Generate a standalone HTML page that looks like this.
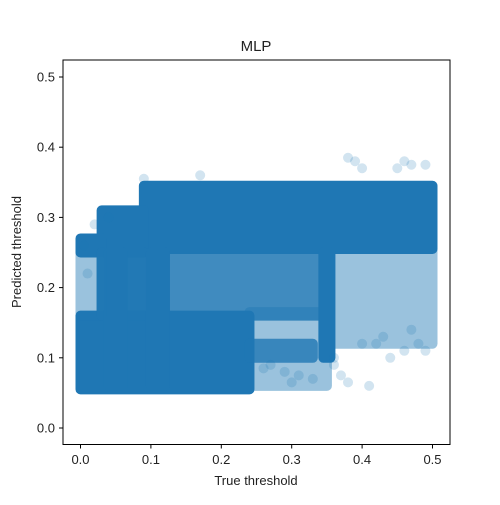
<!DOCTYPE html>
<html><head><meta charset="utf-8"><style>
body{margin:0;background:#fff}
svg text{font-family:"Liberation Sans","DejaVu Sans",sans-serif;font-size:13px;fill:#222}
</style></head><body>
<svg id="chart" width="500" height="500" viewBox="0 0 500 500">
<rect x="0" y="0" width="500" height="500" fill="#fff"/>
<g id="marks"></g>
<g id="axes"></g>
<text x="256" y="51" text-anchor="middle" style="font-size:15px">MLP</text>
<text x="256" y="485" text-anchor="middle">True threshold</text>
<text transform="translate(21,252) rotate(-90)" text-anchor="middle">Predicted threshold</text>
</svg>
<script>
// dense bands (data coords): x0,x1,y0,y1,opacity
const bandX0=[0.24,0.35,0.03,0.09,0.03,0.0,0.0,0.24,0.03,0.04,0.10,0.345,0.0];
const bandX1=[0.35,0.50,0.35,0.50,0.09,0.03,0.24,0.33,0.09,0.06,0.12,0.355,0.03];
const bandY0=[0.06,0.12,0.16,0.255,0.25,0.25,0.055,0.10,0.16,0.06,0.06,0.10,0.16];
const bandY1=[0.165,0.255,0.255,0.345,0.31,0.27,0.16,0.12,0.25,0.25,0.25,0.25,0.25];
const bandA=[0.45,0.45,0.85,1,1,1,1,0.8,0.9,1,1,1,0.45];
// scattered outlier points
const ptX=[0.38,0.39,0.40,0.46,0.47,0.45,0.49,0.36,0.42,0.44,0.48,0.33,0.30,0.38,0.43,0.47,0.29,0.31,0.27,0.26,0.36,0.40,0.46,0.49,0.02,0.005,0.01,0.04,0.09,0.17,0.41,0.37];
const ptY=[0.385,0.38,0.37,0.38,0.375,0.37,0.375,0.10,0.12,0.10,0.12,0.07,0.065,0.065,0.13,0.14,0.08,0.075,0.09,0.085,0.09,0.12,0.11,0.11,0.29,0.26,0.22,0.30,0.355,0.36,0.06,0.075];
const xTicks=[0,0.1,0.2,0.3,0.4,0.5];
const yTicks=[0,0.1,0.2,0.3,0.4,0.5];
const xs=v=>80.5+v*704, ys=v=>428-v*702;
const NS='http://www.w3.org/2000/svg';
const marks=document.getElementById('marks'), axes=document.getElementById('axes');
function mk(t,a,p){const e=document.createElementNS(NS,t);for(const k in a)e.setAttribute(k,a[k]);p.appendChild(e);return e;}
for(let i=0;i<bandX0.length;i++){
  const r=mk('rect',{x:xs(bandX0[i])-5,y:ys(bandY1[i])-5,width:xs(bandX1[i])-xs(bandX0[i])+10,height:ys(bandY0[i])-ys(bandY1[i])+10,rx:5,fill:'#1f77b4','fill-opacity':bandA[i]},marks);
  
  
}
for(let i=0;i<ptX.length;i++){
  const c=mk('circle',{cx:xs(ptX[i]),cy:ys(ptY[i]),r:5,fill:'#1f77b4','fill-opacity':0.2},marks);
  
  
}
const fr=mk('rect',{x:63,y:60,width:387,height:384.5,fill:'none',stroke:'#000','stroke-width':1},axes);


xTicks.forEach(v=>{
  const x=xs(v);
  mk('line',{x1:x,x2:x,y1:444.5,y2:448.5,stroke:'#000'},axes);
  const t=mk('text',{x:x,y:464,'text-anchor':'middle'},axes);t.textContent=v.toFixed(1);
  
  
});
yTicks.forEach(v=>{
  const y=ys(v);
  mk('line',{x1:59,x2:63,y1:y,y2:y,stroke:'#000'},axes);
  const t=mk('text',{x:55,y:y+4.5,'text-anchor':'end'},axes);t.textContent=v.toFixed(1);
  
  
});
</script>
</body></html>
